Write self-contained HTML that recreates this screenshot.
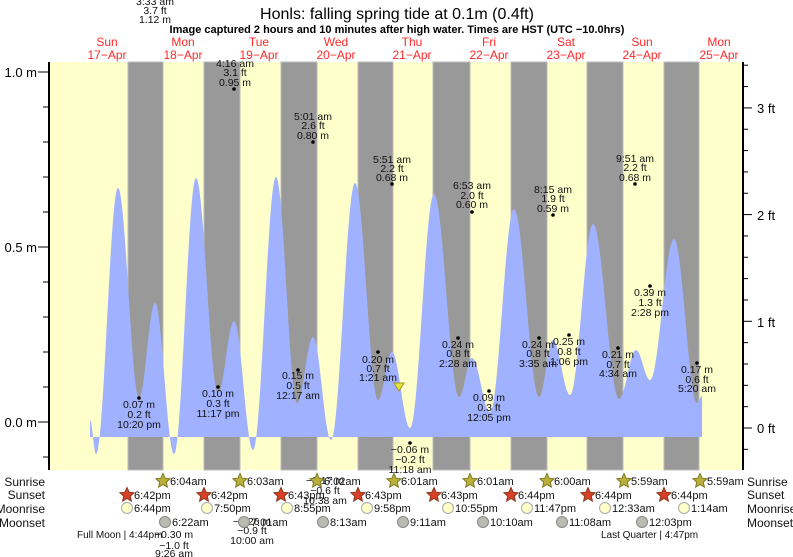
<!DOCTYPE html>
<html><head><meta charset="utf-8"><style>
html,body{margin:0;padding:0;background:#fff;}
svg{display:block;font-family:"Liberation Sans",sans-serif;}
</style></head><body>
<svg id="s" width="793" height="557" xmlns="http://www.w3.org/2000/svg">
<rect x="49" y="62" width="694" height="408" fill="#ffffcc"/>
<g fill="#999999" stroke="#bbbbbb" stroke-width="1">
<rect x="128" y="62" width="35" height="408"/>
<rect x="204" y="62" width="36" height="408"/>
<rect x="281" y="62" width="36" height="408"/>
<rect x="358" y="62" width="35" height="408"/>
<rect x="433" y="62" width="37" height="408"/>
<rect x="511" y="62" width="36" height="408"/>
<rect x="587" y="62" width="36" height="408"/>
<rect x="664" y="62" width="35" height="408"/>
</g>
<path id="tide" fill="#a0b2ff" d=""/>
<g stroke="#000" stroke-width="2"><line x1="49" y1="62" x2="49" y2="470"/><line x1="743" y1="62" x2="743" y2="470"/></g>
<g id="ticks" stroke="#000" stroke-width="1"></g>
<g font-size="13" text-anchor="end" fill="#000">
<text x="37" y="77">1.0 m</text><text x="37" y="252">0.5 m</text><text x="37" y="427">0.0 m</text>
</g>
<g font-size="13" fill="#000">
<text x="757" y="113">3 ft</text><text x="757" y="220">2 ft</text><text x="757" y="327">1 ft</text><text x="757" y="433">0 ft</text>
</g>
<text x="397" y="19" font-size="16" text-anchor="middle">Honls: falling  spring tide at 0.1m (0.4ft)</text>
<text x="397" y="33" font-size="11" font-weight="bold" text-anchor="middle">Image captured 2 hours and 10 minutes after high water. Times are HST (UTC −10.0hrs)</text>
<g font-size="12" fill="#ff2a2a" text-anchor="middle">
<text x="107" y="46">Sun</text><text x="107" y="59">17−Apr</text>
<text x="183" y="46">Mon</text><text x="183" y="59">18−Apr</text>
<text x="259" y="46">Tue</text><text x="259" y="59">19−Apr</text>
<text x="336" y="46">Wed</text><text x="336" y="59">20−Apr</text>
<text x="412" y="46">Thu</text><text x="412" y="59">21−Apr</text>
<text x="489" y="46">Fri</text><text x="489" y="59">22−Apr</text>
<text x="566" y="46">Sat</text><text x="566" y="59">23−Apr</text>
<text x="642" y="46">Sun</text><text x="642" y="59">24−Apr</text>
<text x="719" y="46">Mon</text><text x="719" y="59">25−Apr</text>
</g>
<g id="ann" font-size="10.5" text-anchor="middle" fill="#111"></g>
<polygon points="394,383 404,383 399,391" fill="#e8e040" stroke="#a09a20" stroke-width="1"/>
<g font-size="12" fill="#111">
<text x="45" y="486" text-anchor="end">Sunrise</text><text x="45" y="499" text-anchor="end">Sunset</text>
<text x="45" y="513" text-anchor="end">Moonrise</text><text x="45" y="527" text-anchor="end">Moonset</text>
<text x="747" y="486">Sunrise</text><text x="747" y="499">Sunset</text>
<text x="747" y="513">Moonrise</text><text x="747" y="527">Moonset</text>
</g>
<g id="icons" font-size="11" fill="#111"></g>
<g font-size="10" fill="#111">
<text x="77" y="538">Full Moon | 4:44pm</text>
<text x="601" y="538">Last Quarter | 4:47pm</text>
</g>
</svg>
<script>
var NS="http://www.w3.org/2000/svg";
function el(p,t,a,txt){var e=document.createElementNS(NS,t);for(var k in a)e.setAttribute(k,a[k]);if(txt!=null)e.textContent=txt;p.appendChild(e);return e;}
var P=[[90,420],[96,454],[118,188],[139,398],[155,303],[174,454],[196,178],[218,393],[234,321],[253,450],[276,177],[297,403],[313,337],[331,440],[355,183],[378,400],[392,352],[410,428],[434,194],[459,397],[472,358],[490,412],[514,209],[539,397],[553,340],[570,395],[593,224],[619,399],[636,350],[650,380],[674,239],[697,403],[702,396]];
var d="M90,437 L90,420";
for(var i=0;i<P.length-1;i++){var a=P[i],b=P[i+1];for(var x=a[0]+0.5;x<=b[0];x+=0.5){var t=(x-a[0])/(b[0]-a[0]);var y=a[1]+(b[1]-a[1])*(1-Math.cos(Math.PI*t))/2;d+=" L"+x.toFixed(1)+","+y.toFixed(1);}}
d+=" L702,437 Z";
document.getElementById("tide").setAttribute("d",d);
var T=document.getElementById("ticks");
for(var v=-0.1;v<=1.15;v+=0.1){var y=422-350*v;if(y<62||y>470)continue;var maj=Math.abs(v*2-Math.round(v*2))<0.01;el(T,"line",{x1:maj?38:43,y1:y,x2:49,y2:y});}
for(var f=-0.2;f<=3.45;f+=0.2){var y=428-106.7*f;var maj=Math.abs(f-Math.round(f))<0.01;if(y<62||y>470)continue;el(T,"line",{x1:743,y1:y,x2:maj?752:748,y2:y});}
var A=document.getElementById("ann");
var ann=[
[155,[5,14,23],["3:33 am","3.7 ft","1.12 m"],null],
[235,[67,76,86],["4:16 am","3.1 ft","0.95 m"],[234,89]],
[313,[120,129,139],["5:01 am","2.6 ft","0.80 m"],[313,142]],
[392,[163,172,181],["5:51 am","2.2 ft","0.68 m"],[392,184]],
[472,[189,199,208],["6:53 am","2.0 ft","0.60 m"],[472,212]],
[553,[193,202,212],["8:15 am","1.9 ft","0.59 m"],[553,215]],
[635,[162,171,181],["9:51 am","2.2 ft","0.68 m"],[635,184]],
[650,[296,306,316],["0.39 m","1.3 ft","2:28 pm"],[650,286]],
[139,[408,418,428],["0.07 m","0.2 ft","10:20 pm"],[139,398]],
[218,[397,407,417],["0.10 m","0.3 ft","11:17 pm"],[218,387]],
[298,[379,389,399],["0.15 m","0.5 ft","12:17 am"],[298,370]],
[378,[363,372,381],["0.20 m","0.7 ft","1:21 am"],[378,352]],
[458,[348,357,367],["0.24 m","0.8 ft","2:28 am"],[458,338]],
[489,[401,411,421],["0.09 m","0.3 ft","12:05 pm"],[489,391]],
[538,[348,357,367],["0.24 m","0.8 ft","3:35 am"],[539,338]],
[569,[345,355,365],["0.25 m","0.8 ft","1:06 pm"],[569,335]],
[618,[358,368,377],["0.21 m","0.7 ft","4:34 am"],[618,348]],
[697,[373,383,392],["0.17 m","0.6 ft","5:20 am"],[697,363]],
[410,[453,463,473],["−0.06 m","−0.2 ft","11:18 am"],[410,443]],
[325,[484,494,504],["−0.17 m","−0.6 ft","10:38 am"],null],
[252,[525,534,544],["−0.26 m","−0.9 ft","10:00 am"],null],
[174,[538,549,557],["−0.30 m","−1.0 ft","9:26 am"],null]];
ann.forEach(function(a){for(var i=0;i<3;i++)el(A,"text",{x:a[0],y:a[1][i]},a[2][i]);if(a[3])el(A,"circle",{cx:a[3][0],cy:a[3][1],r:1.8,fill:"#000"});});
var I=document.getElementById("icons");
function star(cx,cy,fill,stroke){var pts=[];for(var k=0;k<10;k++){var r=k%2?3.5:7.5;var an=-Math.PI/2+k*Math.PI/5;pts.push((cx+r*Math.cos(an)).toFixed(1)+","+(cy+r*Math.sin(an)).toFixed(1));}el(I,"polygon",{points:pts.join(" "),fill:fill,stroke:stroke,"stroke-width":1});}
var sr=[[163,"6:04am"],[240,"6:03am"],[317,"6:02am"],[394,"6:01am"],[470,"6:01am"],[547,"6:00am"],[624,"5:59am"],[700,"5:59am"]];
sr.forEach(function(s){star(s[0],481,"#b8b03a","#807a20");el(I,"text",{x:s[0]+7,y:485},s[1]);});
var ss=[[127,"6:42pm"],[204,"6:42pm"],[281,"6:43pm"],[358,"6:43pm"],[434,"6:43pm"],[511,"6:44pm"],[588,"6:44pm"],[664,"6:44pm"]];
ss.forEach(function(s){star(s[0],495,"#d84028","#8a3a20");el(I,"text",{x:s[0]+7,y:499},s[1]);});
var mr=[[127,"6:44pm"],[207,"7:50pm"],[287,"8:55pm"],[367,"9:58pm"],[448,"10:55pm"],[527,"11:47pm"],[605,"12:33am"],[684,"1:14am"]];
mr.forEach(function(s){el(I,"circle",{cx:s[0],cy:508,r:5.5,fill:"#ffffc8",stroke:"#aaa"});el(I,"text",{x:s[0]+7,y:512},s[1]);});
var ms=[[165,"6:22am"],[244,"7:01am"],[323,"8:13am"],[403,"9:11am"],[483,"10:10am"],[562,"11:08am"],[642,"12:03pm"]];
ms.forEach(function(s){el(I,"circle",{cx:s[0],cy:522,r:5.5,fill:"#bbbbb0",stroke:"#888"});el(I,"text",{x:s[0]+7,y:526},s[1]);});
</script>
</body></html>
